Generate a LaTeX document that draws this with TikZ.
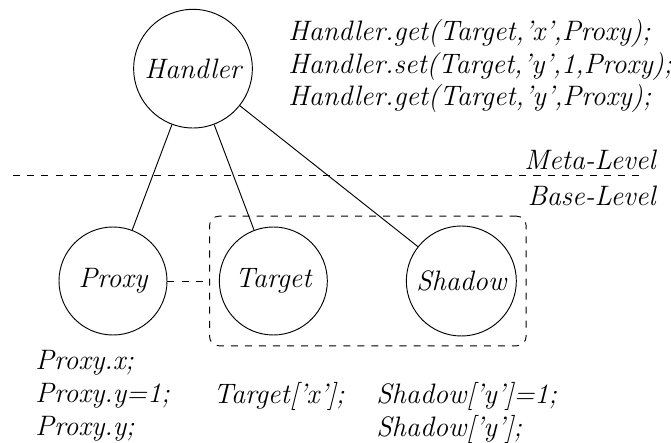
\documentclass[tikz,border=0pt]{standalone}
\usepackage{amsmath}
\usetikzlibrary{arrows,shapes,positioning,fit}
\tikzset{
    obj/.style = {circle, draw, font=\large\itshape, minimum size=1.62cm, inner sep=0pt},
    meta obj/.style = {obj, minimum size=1.78cm},
    trace/.style = {font=\large\itshape, align=left, anchor=west, inner sep=0pt},
    level label/.style = {font=\large\itshape, anchor=east, inner sep=0pt},
    group box/.style = {draw, dashed, rounded corners=4pt, inner sep=0.14cm}
}
\begin{document}
\begin{tikzpicture}
	\useasboundingbox (0,0) rectangle (10.065,-6.645);
		\node[meta obj] (Handler) at (2.895,-1.03) {Handler};
		\node[obj] (Proxy) at (1.695,-4.215) {Proxy};
		\node[obj] (Target) at (4.1,-4.215) {Target};
		\node[obj, minimum size=1.65cm] (Shadow) at (6.92,-4.215) {Shadow};
		\node[group box, fit=(Target)(Shadow)] (box) {};
		\draw (Handler) -- (Proxy);
		\draw (Handler) -- (Target);
		\draw (Handler) -- (Shadow);
		\draw[dashed] (Proxy) -- (box.west);
		\coordinate (sep west) at (0.2,-2.625);
		\coordinate (sep east) at (9.66,-2.625);
		\draw[dashed] (sep west) -- (sep east);
		\node[level label] (meta) at (9.84,-2.4) {Meta-Level};
		\node[level label] (base) at (9.84,-2.94) {Base-Level};
		\node[trace] (handler calls) at (4.32,-0.99) {Handler.get(Target,'x',Proxy);\\Handler.set(Target,'y',1,Proxy);\\Handler.get(Target,'y',Proxy);};
		\node[trace] (proxy calls) at (0.525,-5.94) {Proxy.x;\\Proxy.y=1;\\Proxy.y;};
		\node[trace] (target calls) at (3.195,-5.94) {Target['x'];};
		\node[trace] (shadow calls) at (5.64,-6.195) {Shadow['y']=1;\\Shadow['y'];};
	\end{tikzpicture}
\end{document}
